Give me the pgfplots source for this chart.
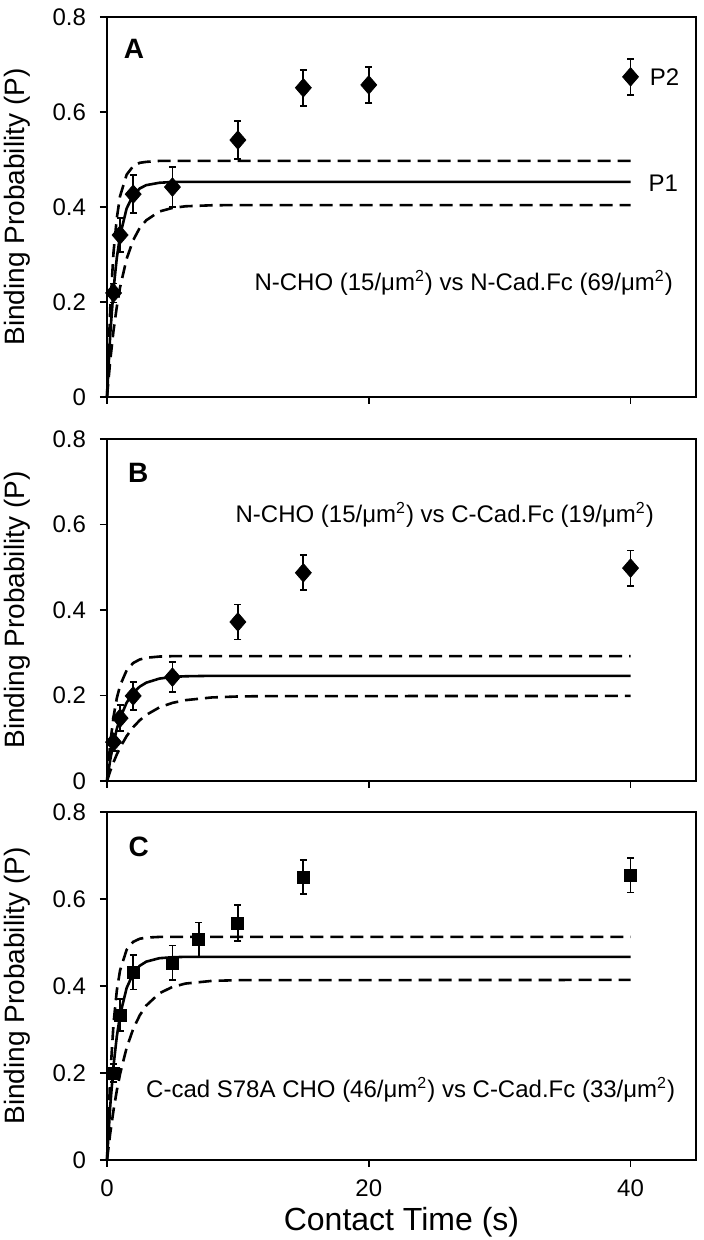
\documentclass[border=0pt]{standalone}
\usepackage{fontspec}
\setmainfont{Liberation Sans}
\usepackage{pgfplots}
\pgfplotsset{compat=1.18}

\pgfplotsset{
  panel/.style={
    scale only axis, width=294.5pt,
    xmin=0, xmax=45, ymin=0, ymax=0.8,
    xtick={0,20,40}, ytick={0,0.2,0.4,0.6,0.8},
    tick align=outside, xtick pos=bottom, ytick pos=left,
    major tick length=3.5pt,
    axis line style={line width=0.9pt},
    every tick/.style={black, line width=0.9pt},
    tick label style={font=\fontsize{12}{14}\selectfont},
    yticklabel shift=3.5pt,
    xticklabel shift=3pt,
    /pgf/number format/assume math mode=true,
    ylabel={Binding Probability (P)},
    ylabel style={font=\fontsize{14}{16}\selectfont, at={(axis description cs:-0.153,0.5)}, anchor=center},
    clip=false,
  },
  fit/.style={black, line width=1.3pt},
  band/.style={black, line width=1.3pt, dash pattern=on 6.5pt off 3.5pt},
  pts/.style={only marks, black, mark size=4.6pt, mark options={xscale=1.15},
    error bars/y dir=both, error bars/y explicit,
    error bars/error bar style={line width=0.9pt, black},
    error bars/error mark options={rotate=90, mark size=1.75pt, line width=0.9pt, black}},
}
\tikzset{
  note/.style={font=\fontsize{12}{14}\selectfont},
  letter/.style={font=\fontsize{14}{16}\selectfont\bfseries},
}

\begin{document}
\begin{tikzpicture}
\useasboundingbox (0,0) rectangle (352pt,620pt);

% ---------- A ----------
\begin{axis}[panel, height=190pt, at={(53.5pt,421.5pt)}, anchor=south west, xticklabels={}]
\addplot[fit] coordinates {(0,0) (0.25,0.133) (0.5,0.227) (0.75,0.293) (1,0.340) (1.5,0.397) (2,0.425) (2.5,0.439) (3,0.446) (4,0.451) (5,0.4526) (6,0.453) (40,0.453)};
\addplot[band] coordinates {(0,0) (0.25,0.188) (0.5,0.305) (0.75,0.377) (1,0.423) (1.5,0.468) (2,0.486) (2.5,0.493) (3,0.495) (4,0.497) (40,0.497)};
\addplot[band] coordinates {(0,0) (0.25,0.0773) (0.5,0.140) (0.75,0.190) (1,0.231) (1.5,0.291) (2,0.330) (2.5,0.356) (3,0.372) (4,0.3905) (5,0.398) (6,0.4015) (8,0.4036) (10,0.404) (40,0.404)};
\addplot[pts, mark=diamond*] table[y error index=2] {
x y e
0.5 0.219 0.02
1 0.341 0.035
2 0.427 0.04
5 0.442 0.042
10 0.541 0.04
15 0.651 0.038
20 0.657 0.038
40 0.674 0.038
};
\node[letter] at (axis description cs:0.046,0.916) {A};
\node[note] at (axis cs:27.25,0.24) {N-CHO (15/μm\textsuperscript{2}) vs N-Cad.Fc (69/μm\textsuperscript{2})};
\node[note] at (axis cs:42.6,0.674) {P2};
\node[note] at (axis cs:42.5,0.45) {P1};
\end{axis}

% ---------- B ----------
\begin{axis}[panel, height=171pt, at={(53.5pt,229.5pt)}, anchor=south west, xticklabels={}]
\addplot[fit] coordinates {(0,0) (0.25,0.0501) (0.5,0.0899) (0.75,0.1217) (1,0.147) (1.5,0.1832) (2,0.206) (2.5,0.2207) (3,0.230) (4,0.2395) (5,0.2434) (6,0.245) (8,0.246) (40,0.246)};
\addplot[band] coordinates {(0,0) (0.25,0.0888) (0.5,0.1506) (0.75,0.1936) (1,0.2235) (1.5,0.2588) (2,0.276) (2.5,0.2842) (3,0.2882) (4,0.2911) (5,0.292) (40,0.292)};
\addplot[band] coordinates {(0,0) (0.25,0.0234) (0.5,0.0440) (0.75,0.0622) (1,0.0783) (1.5,0.1050) (2,0.1258) (2.5,0.1420) (3,0.1546) (4,0.1721) (5,0.1827) (6,0.1891) (8,0.1954) (10,0.1977) (12,0.1985) (40,0.199)};
\addplot[pts, mark=diamond*] table[y error index=2] {
x y e
0.5 0.091 0.02
1 0.147 0.03
2 0.199 0.033
5 0.243 0.035
10 0.372 0.041
15 0.487 0.041
40 0.498 0.041
};
\node[letter] at (axis description cs:0.053,0.90) {B};
\node[note] at (axis cs:25.8,0.622) {N-CHO (15/μm\textsuperscript{2}) vs C-Cad.Fc (19/μm\textsuperscript{2})};
\end{axis}

% ---------- C ----------
\begin{axis}[panel, height=174pt, at={(53.5pt,40pt)}, anchor=south west,
  xlabel={Contact Time (s)},
  xlabel style={font=\fontsize{16}{18}\selectfont, at={(axis description cs:0.5,-0.178)}, anchor=center}]
\addplot[fit] coordinates {(0,0) (0.25,0.1253) (0.5,0.2170) (0.75,0.2841) (1,0.3332) (1.5,0.3954) (2,0.4287) (2.5,0.4465) (3,0.4560) (4,0.4639) (5,0.4661) (6,0.467) (40,0.467)};
\addplot[band] coordinates {(0,0) (0.25,0.1939) (0.5,0.3145) (0.75,0.3896) (1,0.4363) (1.5,0.4833) (2,0.5015) (2.5,0.5086) (3,0.5113) (4,0.5128) (40,0.513)};
\addplot[band] coordinates {(0,0) (0.25,0.0621) (0.5,0.1149) (0.75,0.1597) (1,0.1979) (1.5,0.2578) (2,0.3012) (2.5,0.3325) (3,0.3551) (4,0.3832) (5,0.3979) (6,0.4056) (8,0.4117) (10,0.4134) (40,0.414)};
\addplot[pts, mark=square*, mark size=3pt, mark options={xscale=1}] table[y error index=2] {
x y e
0.5 0.200 0.02
1 0.333 0.037
2 0.432 0.04
5 0.453 0.04
7 0.506 0.04
10 0.545 0.042
15 0.650 0.039
40 0.655 0.04
};
\node[letter] at (axis description cs:0.054,0.90) {C};
\node[note] at (axis cs:23.2,0.161) {C-cad S78A CHO (46/μm\textsuperscript{2}) vs C-Cad.Fc (33/μm\textsuperscript{2})};
\end{axis}
\end{tikzpicture}
\end{document}
